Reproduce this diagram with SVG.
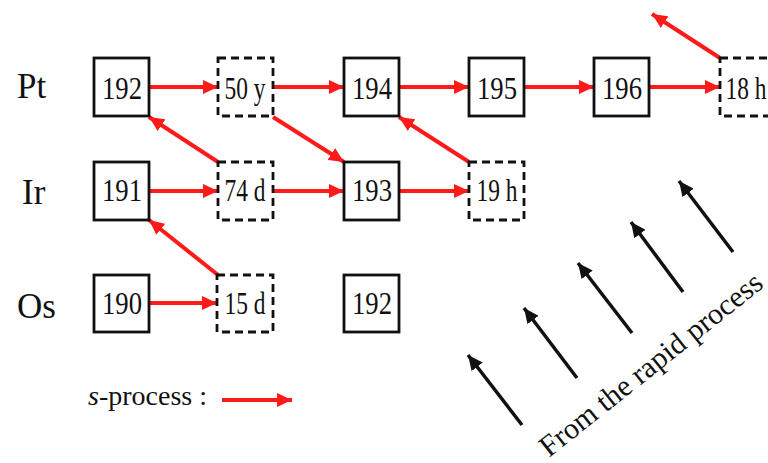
<svg xmlns="http://www.w3.org/2000/svg" width="768" height="463" viewBox="0 0 768 463">
<style>
.box{fill:#fff;stroke:#111;stroke-width:2.8}
.dash{fill:#fff;stroke:#111;stroke-width:2.8;stroke-dasharray:8 5}
.t{font-family:"Liberation Serif",serif;font-size:31px;fill:#111;text-anchor:middle}
.el{font-family:"Liberation Serif",serif;font-size:35px;fill:#111}
.r{stroke:#ff1a1a;stroke-width:4;fill:none;marker-end:url(#ra)}
.k{stroke:#111;stroke-width:3.5;fill:none;marker-end:url(#ka)}
</style>
<defs>
<marker id="ra" markerUnits="userSpaceOnUse" markerWidth="16" markerHeight="14" refX="15" refY="7" orient="auto"><path d="M0,0 L15,7 L0,14 z" fill="#ff1a1a"/></marker>
<marker id="ka" markerUnits="userSpaceOnUse" markerWidth="16" markerHeight="14" refX="15" refY="7" orient="auto"><path d="M0,0 L15,7 L0,14 z" fill="#111"/></marker>
</defs>
<rect width="768" height="463" fill="#fff"/>
<g id="labels">
<text class="el" x="17" y="98">Pt</text>
<text class="el" x="22" y="204">Ir</text>
<text class="el" x="17" y="318">Os</text>
</g>
<g id="connectors">
<line class="r" x1="149" y1="87" x2="218" y2="87"/>
<line class="r" x1="273" y1="87" x2="344" y2="87"/>
<line class="r" x1="399" y1="87" x2="469" y2="87"/>
<line class="r" x1="524" y1="87" x2="594" y2="87"/>
<line class="r" x1="649" y1="87" x2="720" y2="87"/>
<line class="r" x1="720" y1="58" x2="652" y2="14"/>
<line class="r" x1="218" y1="162" x2="149" y2="117"/>
<line class="r" x1="273" y1="117" x2="344" y2="162"/>
<line class="r" x1="469" y1="162" x2="399" y2="117"/>
<line class="r" x1="149" y1="191" x2="218" y2="191"/>
<line class="r" x1="273" y1="191" x2="344" y2="191"/>
<line class="r" x1="399" y1="191" x2="469" y2="191"/>
<line class="r" x1="218" y1="275" x2="149" y2="220"/>
<line class="r" x1="149" y1="303" x2="217" y2="303"/>
<line class="r" x1="222" y1="400" x2="292" y2="400"/>
<line class="k" x1="522" y1="425" x2="468" y2="355"/>
<line class="k" x1="577" y1="378" x2="524" y2="308"/>
<line class="k" x1="632" y1="333" x2="578" y2="263"/>
<line class="k" x1="683" y1="292" x2="631" y2="222"/>
<line class="k" x1="733" y1="252" x2="679" y2="181"/>
</g>
<g id="n-pt192"><rect class="box" x="94" y="58" width="55" height="58"/><text class="t" x="122" y="99" textLength="40" lengthAdjust="spacingAndGlyphs">192</text></g>
<g id="n-pt50y"><rect class="dash" x="218" y="58" width="55" height="58"/><text class="t" x="245" y="99" textLength="41" lengthAdjust="spacingAndGlyphs">50 y</text></g>
<g id="n-pt194"><rect class="box" x="344" y="58" width="55" height="58"/><text class="t" x="372" y="99" textLength="40" lengthAdjust="spacingAndGlyphs">194</text></g>
<g id="n-pt195"><rect class="box" x="469" y="58" width="55" height="58"/><text class="t" x="497" y="99" textLength="40" lengthAdjust="spacingAndGlyphs">195</text></g>
<g id="n-pt196"><rect class="box" x="594" y="58" width="55" height="58"/><text class="t" x="622" y="99" textLength="40" lengthAdjust="spacingAndGlyphs">196</text></g>
<g id="n-pt18h"><rect class="dash" x="720" y="58" width="55" height="58"/><text class="t" x="746" y="99" textLength="41" lengthAdjust="spacingAndGlyphs">18 h</text></g>
<g id="n-ir191"><rect class="box" x="94" y="162" width="55" height="58"/><text class="t" x="122" y="201" textLength="40" lengthAdjust="spacingAndGlyphs">191</text></g>
<g id="n-ir74d"><rect class="dash" x="218" y="162" width="55" height="58"/><text class="t" x="245" y="201" textLength="41" lengthAdjust="spacingAndGlyphs">74 d</text></g>
<g id="n-ir193"><rect class="box" x="344" y="162" width="55" height="58"/><text class="t" x="372" y="201" textLength="40" lengthAdjust="spacingAndGlyphs">193</text></g>
<g id="n-ir19h"><rect class="dash" x="469" y="162" width="55" height="58"/><text class="t" x="497" y="201" textLength="41" lengthAdjust="spacingAndGlyphs">19 h</text></g>
<g id="n-os190"><rect class="box" x="94" y="275" width="55" height="57"/><text class="t" x="122" y="314" textLength="40" lengthAdjust="spacingAndGlyphs">190</text></g>
<g id="n-os15d"><rect class="dash" x="217" y="275" width="56" height="57"/><text class="t" x="245" y="314" textLength="41" lengthAdjust="spacingAndGlyphs">15 d</text></g>
<g id="n-os192"><rect class="box" x="344" y="275" width="55" height="57"/><text class="t" x="372" y="314" textLength="40" lengthAdjust="spacingAndGlyphs">192</text></g>
<g id="legend"><text font-family="'Liberation Serif',serif" font-size="28" fill="#111" x="88" y="405"><tspan font-style="italic">s</tspan>-process :</text></g>
<text font-family="'Liberation Serif',serif" font-size="30" fill="#111" transform="translate(549,458) rotate(-38.5)">From the rapid process</text>
</svg>
